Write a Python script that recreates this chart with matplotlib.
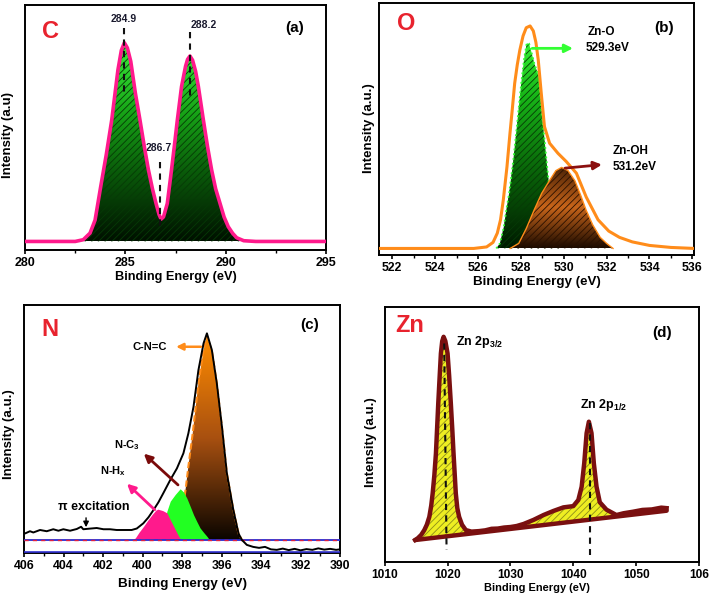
import numpy as np
import matplotlib
matplotlib.use('Agg')
import matplotlib.pyplot as plt
from matplotlib.patches import Polygon
from matplotlib.colors import LinearSegmentedColormap
from matplotlib.ticker import MultipleLocator

plt.rcParams['font.family'] = ['Liberation Sans', 'DejaVu Sans']
plt.rcParams['font.weight'] = 'bold'
plt.rcParams['axes.labelweight'] = 'bold'
plt.rcParams['mathtext.fontset'] = 'custom'
plt.rcParams['mathtext.rm'] = 'Liberation Sans:bold'
plt.rcParams['mathtext.bf'] = 'Liberation Sans:bold'
plt.rcParams['mathtext.it'] = 'Liberation Sans:bold'
plt.rcParams['mathtext.default'] = 'rm'
plt.rcParams['hatch.linewidth'] = 0.6

# ---- (a) C 1s ----
c_x = [280, 282.5, 282.9, 283.24, 283.49, 283.77, 284.05, 284.32, 284.63, 284.8,
       284.95, 285.1, 285.27, 285.5, 285.73, 285.95, 286.15, 286.35, 286.53, 286.68,
       286.78, 286.9, 287.09, 287.3, 287.45, 287.59, 287.8, 288.0, 288.1, 288.22,
       288.35, 288.5, 288.64, 288.89, 289.1, 289.3, 289.5, 289.72, 289.92, 290.13,
       290.35, 290.55, 290.9, 291.5, 295]
c_y = [3.5, 3.5, 4.2, 6.9, 12.2, 25.8, 39, 53, 73.5, 81.5,
       84.6, 82.5, 77, 64, 53, 42, 32.7, 25, 19, 14.5,
       12.6, 13.5, 19, 32.7, 43, 53, 66.7, 75, 77.8, 79.2,
       77.5, 73, 66.7, 53, 42, 32.7, 25, 19, 13.5, 9.5,
       6.8, 5, 3.8, 3.5, 3.5]
c_peaks = ['284.9', '286.7', '288.2']
c_peak_x = [284.95, 286.73, 288.22]
c_dash_top = [90.6, 36, 89]
c_dash_bot = [63, 8.2, 62]

# ---- (b) O 1s ----
o_x = [521.4, 525.8, 526.4, 526.7, 526.9, 527.05, 527.18, 527.35, 527.49, 527.6,
       527.71, 527.83, 527.95, 528.1, 528.25, 528.43, 528.58, 528.7, 528.81, 528.95,
       529.1, 529.34, 529.73, 530.12, 530.59, 531.05, 531.6, 532.1, 532.6, 533.2,
       534.0, 535.0, 536.1]
o_y = [2.6, 2.6, 3.2, 5.0, 8.7, 14, 21.9, 35, 48.3, 58,
       68.2, 75.5, 81.4, 87, 90.3, 91, 89, 84.5, 77.5, 64.3,
       51, 44.4, 40.4, 37.1, 32.5, 23, 14, 9.5, 7, 5.2,
       3.8, 3.0, 2.6]
zno_x = [526.85, 527.02, 527.2, 527.32, 527.45, 527.55, 527.65, 527.73, 527.81, 527.89,
         527.97, 528.05, 528.15, 528.27, 528.38, 528.48, 528.63, 528.84, 528.96, 529.12,
         529.27, 529.4, 529.55, 529.75, 530.0]
zno_y = [2.6, 4.6, 11, 17.9, 24.5, 31.1, 38, 44.4, 51, 57.6,
         64.5, 70.8, 78, 84.1, 84, 81, 76, 70.8, 57.6, 44.4,
         31.1, 22, 13, 6, 2.6]
zoh_x = [527.5, 527.9, 528.25, 528.62, 528.97, 529.33, 529.63, 529.9, 530.2, 530.52,
         530.8, 531.04, 531.35, 531.7, 532.0, 532.3]
zoh_y = [2.6, 4.6, 10.5, 17.9, 24.5, 29.5, 33.5, 34.8, 33.5, 29.5,
         23.5, 17.9, 12, 7, 4.6, 2.6]

# ---- (c) N 1s ----
n_x = [406.0, 405.95, 405.70, 405.53, 405.19, 404.85, 404.52, 404.26, 404.01, 403.67,
       403.33, 403.11, 403.0, 402.74, 402.32, 401.98, 401.65, 401.31, 400.97, 400.55,
       400.29, 399.96, 399.7, 399.45, 399.2, 398.95, 398.6, 398.26, 397.93, 397.68,
       397.42, 397.17, 396.91, 396.74, 396.49, 396.24, 395.98, 395.73, 395.4, 395.14,
       394.97, 394.72, 394.4, 394.1, 393.8, 393.5, 393.2, 392.9, 392.6, 392.3,
       392.0, 391.7, 391.4, 391.1, 390.8, 390.5, 390.2, 390.0]
n_y = [8.2, 8.0, 8.9, 8.4, 9.4, 8.9, 9.7, 9.1, 9.7, 9.1,
       9.8, 10.7, 9.7, 9.9, 10.2, 9.7, 9.7, 9.4, 9.4, 9.4,
       10.0, 12.1, 14.5, 17.4, 20.5, 24.2, 29.5, 34.2, 40.3, 48.3,
       59, 73.8, 84.6, 88.6, 81.9, 68.5, 51, 32.2, 17.4, 8,
       5.4, 3.4, 2.6, 2.2, 2.6, 1.6, 1.4, 1.9, 1.3, 1.8,
       1.2, 1.7, 1.4, 2.0, 1.5, 1.8, 1.4, 1.6]
n_base = 5.4
cnc_x = [398.6, 398.3, 398.0, 397.8, 397.68, 397.46, 397.17, 396.91, 396.74, 396.49,
         396.24, 395.98, 395.73, 395.4, 395.14, 394.97]
cnc_y = [5.4, 9, 16, 26.9, 34.9, 48.3, 68.5, 81.9, 87.5, 81.5,
         68.5, 51, 32.2, 17.4, 8, 5.4]
nc3_x = [399.1, 398.9, 398.74, 398.57, 398.32, 398.07, 397.9, 397.73, 397.55, 397.39,
         397.22, 397.06, 396.88, 396.72, 396.6]
nc3_y = [5.4, 11, 16.8, 20.8, 23.5, 25.8, 24.5, 22, 18.5, 15.3,
         12.5, 10, 8.2, 6.7, 5.4]
nh_x = [400.45, 400.34, 400.15, 399.92, 399.7, 399.5, 399.3, 399.2, 398.95, 398.74,
        398.55, 398.4, 398.2, 398.05]
nh_y = [5.4, 6.0, 8.3, 10.7, 13.2, 15.3, 17.2, 17.6, 17.0, 16.1,
        13.0, 10.7, 7.5, 5.4]

# ---- (d) Zn 2p ----
zn_x = [1014.84, 1015.26, 1015.8, 1016.3, 1016.7, 1017.1, 1017.4, 1017.63, 1017.9, 1018.15,
        1018.52, 1018.75, 1018.94, 1019.15, 1019.37, 1019.65, 1020.0, 1020.25, 1020.52, 1020.75,
        1020.95, 1021.31, 1021.55, 1021.84, 1022.3, 1022.9, 1023.8, 1025.0, 1026.0, 1027.0,
        1028.0, 1029.0, 1030.0, 1031.0, 1032.1, 1033.68, 1035.26, 1036.84, 1038.42, 1040.0,
        1040.8, 1041.33, 1041.74, 1042.12, 1042.48, 1042.9, 1043.27, 1043.7, 1044.22, 1045.28,
        1046.86, 1048.0, 1049.5, 1051.0, 1052.5, 1054.0, 1054.85]
zn_y = [8.5, 9.2, 10.5, 12.4, 14.5, 17.6, 22, 26.8, 34, 42.5,
        62.1, 73, 81.7, 86.5, 88.2, 86.5, 81.7, 73, 62.1, 52,
        42.5, 26.8, 21, 17.6, 14.5, 12.4, 11.8, 12.0, 12.3, 12.9,
        13.0, 13.4, 13.6, 14.0, 14.8, 16.4, 18.3, 19.9, 21.3, 21.8,
        24.2, 29.4, 38.6, 50.4, 54.9, 50.4, 38.6, 29.4, 23.3, 20.4,
        18.3, 19.0, 19.6, 20.3, 20.5, 21.2, 21.0]
zn_base_x = [1014.84, 1054.85]
zn_base_y = [8.5, 20.0]
zn_dash_x = [[1019.46, 1019.84], [1042.6, 1042.6]]
zn_dash_y = [[85.6, 4.6], [54.3, 2.6]]
zn_ticks = [1010, 1020, 1030, 1040, 1050, 1060]
zn_ticklabels = ['1010', '1020', '1030', '1040', '1050', '106']

RED = '#e8232e'


def grad_fill(ax, xs, ys, colors, ybot, ytop, hatch_col=None, z=2):
    verts = np.column_stack([xs, ys])
    poly = Polygon(verts, closed=True, fc='none', ec='none')
    ax.add_patch(poly)
    cmap = LinearSegmentedColormap.from_list('g', colors)
    im = ax.imshow(np.linspace(0, 1, 256).reshape(-1, 1), cmap=cmap, origin='lower',
                   aspect='auto', extent=(min(xs), max(xs), ybot, ytop), zorder=z,
                   interpolation='bilinear')
    im.set_clip_path(poly)
    if hatch_col:
        ax.add_patch(Polygon(verts, closed=True, fc='none', ec=hatch_col, lw=0,
                             hatch='/////', zorder=z + 0.1))


def style(ax, xl, yl, xlc, ylc, lsize, tsize):
    ax.set_yticks([])
    for s in ax.spines.values():
        s.set_linewidth(1.4)
    ax.tick_params(axis='x', which='major', direction='out', length=3, width=1.2,
                   pad=2, labelsize=tsize)
    ax.tick_params(axis='x', which='minor', direction='out', length=2, width=1)
    ax.set_xlabel(xl, fontsize=lsize)
    ax.set_ylabel(yl, fontsize=9.5)
    ax.xaxis.set_label_coords(*xlc)
    ax.yaxis.set_label_coords(*ylc)


fig = plt.figure(figsize=(7.09, 5.98), dpi=100)

# (a)
ax = fig.add_axes([0.0353, 0.5819, 0.4245, 0.4097])
grad_fill(ax, c_x, c_y, [(0, '#001000'), (0.35, '#0a5c0a'), (0.65, '#17a517'), (1, '#3cf03c')],
          c_y[0], max(c_y), '#063a06')
ax.plot(c_x, c_y, color='#ff1a8c', lw=2.6, zorder=4)
for lab, px, t, b in zip(c_peaks, c_peak_x, c_dash_top, c_dash_bot):
    ax.plot([px, px], [t, b], color='#111111', lw=1.5, ls=(0, (3, 2.5)), zorder=5)
ax.text(284.92, 94.1, c_peaks[0], fontsize=7.5, ha='center', va='center', color='#1a1a2e')
ax.text(288.91, 91.8, c_peaks[2], fontsize=7.5, ha='center', va='center', color='#1a1a2e')
ax.text(286.66, 41.5, c_peaks[1], fontsize=7.5, ha='center', va='center', color='#1a1a2e')
ax.text(0.083, 0.89, 'C', transform=ax.transAxes, fontsize=17, color=RED, ha='center', va='center')
ax.text(0.897, 0.905, '(a)', transform=ax.transAxes, fontsize=11, ha='center', va='center')
ax.set_xlim(280, 295)
ax.set_ylim(0, 100)
ax.set_xticks([280, 285, 290, 295])
ax.xaxis.set_minor_locator(MultipleLocator(2.5))
style(ax, 'Binding Energy (eV)', 'Intensity (a.u)', (0.5, -0.085), (-0.038, 0.47), 9.2, 9)

# (b)
ax = fig.add_axes([0.5346, 0.5736, 0.4443, 0.4209])
grad_fill(ax, zno_x, zno_y, [(0, '#001a00'), (0.4, '#0a6a0a'), (0.75, '#18b818'), (1, '#33f033')],
          2.6, max(zno_y), '#063a06')
ax.plot(zno_x, zno_y, color='#33ff33', lw=1.3, ls=':', zorder=2.5)
grad_fill(ax, zoh_x, zoh_y, ['#1a0a00', '#c8651a', '#4a2206'], 2.6, max(zoh_y), '#2a1000', z=3)
ax.plot(zoh_x, zoh_y, color='#ff8c1a', lw=1.0, zorder=3.5)
ax.plot(o_x, o_y, color='#ff8c1a', lw=2.2, zorder=4)
ax.annotate('', xy=(530.56, 82.1), xytext=(528.4, 82.1),
            arrowprops=dict(arrowstyle='-|>', color='#33ff33', lw=2, mutation_scale=12), zorder=6)
ax.annotate('', xy=(531.91, 36.0), xytext=(529.93, 34.4),
            arrowprops=dict(arrowstyle='-|>', color='#8b1010', lw=2, mutation_scale=12), zorder=6)
ax.text(531.1, 88.7, 'Zn-O', fontsize=8.5, ha='left', va='center')
ax.text(531.03, 82.1, '529.3eV', fontsize=8.5, ha='left', va='center')
ax.text(532.27, 41.4, 'Zn-OH', fontsize=8.5, ha='left', va='center')
ax.text(532.27, 35.1, '531.2eV', fontsize=8.5, ha='left', va='center')
ax.text(0.087, 0.918, 'O', transform=ax.transAxes, fontsize=17, color=RED, ha='center', va='center')
ax.text(0.905, 0.9, '(b)', transform=ax.transAxes, fontsize=11, ha='center', va='center')
ax.set_xlim(521.38, 536.08)
ax.set_ylim(0, 100)
ax.set_xticks(range(522, 537, 2))
ax.xaxis.set_minor_locator(MultipleLocator(1))
style(ax, 'Binding Energy (eV)', 'Intensity (a.u.)', (0.5, -0.085), (-0.013, 0.505), 9.6, 8.8)

# (c)
ax = fig.add_axes([0.0339, 0.0747, 0.4457, 0.4152])
grad_fill(ax, cnc_x, cnc_y, ['#0a0500', '#a85010', '#ff8c00'], n_base, max(cnc_y), z=2)
ax.plot(cnc_x, cnc_y, color='#ff8c1a', lw=1.5, ls=(0, (3, 1.5)), zorder=2.5)
ax.add_patch(Polygon(np.column_stack([nc3_x, nc3_y]), closed=True, fc='#22ff22', ec='none', zorder=3))
ax.add_patch(Polygon(np.column_stack([nh_x, nh_y]), closed=True, fc='#ff1a8c', ec='none', zorder=3.2))
ax.axhline(n_base, color='#2a2ad0', lw=1.3, zorder=3.4)
ax.axhline(n_base, color='#e02040', lw=1.0, ls=(0, (3, 3)), zorder=3.5)
ax.axhline(0.4, color='#3030d0', lw=1.2, zorder=3)
ax.plot(n_x, n_y, color='black', lw=1.4, zorder=4)
ax.annotate('', xy=(398.44, 83.2), xytext=(396.9, 83.2),
            arrowprops=dict(arrowstyle='-|>', color='#ff8c1a', lw=1.8, mutation_scale=10), zorder=6)
ax.annotate('', xy=(400.04, 40.9), xytext=(398.1, 26.8),
            arrowprops=dict(arrowstyle='-|>', color='#7a0a0a', lw=2, mutation_scale=12), zorder=6)
ax.annotate('', xy=(400.89, 28.8), xytext=(399.28, 16.8),
            arrowprops=dict(arrowstyle='-|>', color='#ff1a8c', lw=2, mutation_scale=12), zorder=6)
ax.annotate('', xy=(402.86, 9.4), xytext=(402.86, 15.4),
            arrowprops=dict(arrowstyle='-|>', color='black', lw=1, mutation_scale=8), zorder=6)
ax.text(398.75, 83.2, 'C-N=C', fontsize=8, ha='right', va='center')
ax.text(400.8, 43.5, r'N-C$_3$', fontsize=8, ha='center', va='center')
ax.text(401.47, 33.3, r'N-H$_x$', fontsize=8, ha='center', va='center')
ax.text(402.49, 18.8, '\u03c0 excitation', fontsize=9, ha='center', va='center')
ax.text(0.082, 0.9, 'N', transform=ax.transAxes, fontsize=17, color=RED, ha='center', va='center')
ax.text(0.905, 0.919, '(c)', transform=ax.transAxes, fontsize=11, ha='center', va='center')
ax.set_xlim(406, 390)
ax.set_ylim(0, 100)
ax.set_xticks(range(406, 389, -2))
ax.xaxis.set_minor_locator(MultipleLocator(1))
style(ax, 'Binding Energy (eV)', 'Intensity (a.u.)', (0.5, -0.1), (-0.028, 0.48), 9.7, 8.8)

# (d)
ax = fig.add_axes([0.5426, 0.0607, 0.4433, 0.4264])
zverts = np.column_stack([zn_x + zn_base_x[::-1][:1], zn_y + zn_base_y[::-1][:1]])
ax.add_patch(Polygon(zverts, closed=True, fc='#eeee22', ec='none', zorder=2))
ax.add_patch(Polygon(zverts, closed=True, fc='none', ec='#8c8c1a', lw=0, hatch='/////', zorder=2.1))
ax.plot(zn_base_x, zn_base_y, color='#7a1010', lw=3.2, zorder=3, solid_capstyle='round')
ax.plot(zn_x, zn_y, color='#7a1010', lw=3.2, zorder=3, solid_joinstyle='round')
for dx, dy in zip(zn_dash_x, zn_dash_y):
    ax.plot(dx, dy, color='#111111', lw=1.5, ls=(0, (3, 2.5)), zorder=5)
ax.text(1021.31, 86, r'Zn 2p$_{3/2}$', fontsize=9, ha='left', va='center')
ax.text(1041.06, 61.5, r'Zn 2p$_{1/2}$', fontsize=9, ha='left', va='center')
ax.text(0.08, 0.928, 'Zn', transform=ax.transAxes, fontsize=17, color=RED, ha='center', va='center')
ax.text(0.883, 0.896, '(d)', transform=ax.transAxes, fontsize=11, ha='center', va='center')
ax.set_xlim(1010, 1060)
ax.set_ylim(0, 100)
ax.set_xticks(zn_ticks)
ax.set_xticklabels(zn_ticklabels)
style(ax, 'Binding Energy (eV)', 'Intensity (a.u.)', (0.483, -0.085), (-0.025, 0.47), 7.9, 8.6)

fig.savefig('out.png', dpi=100)
